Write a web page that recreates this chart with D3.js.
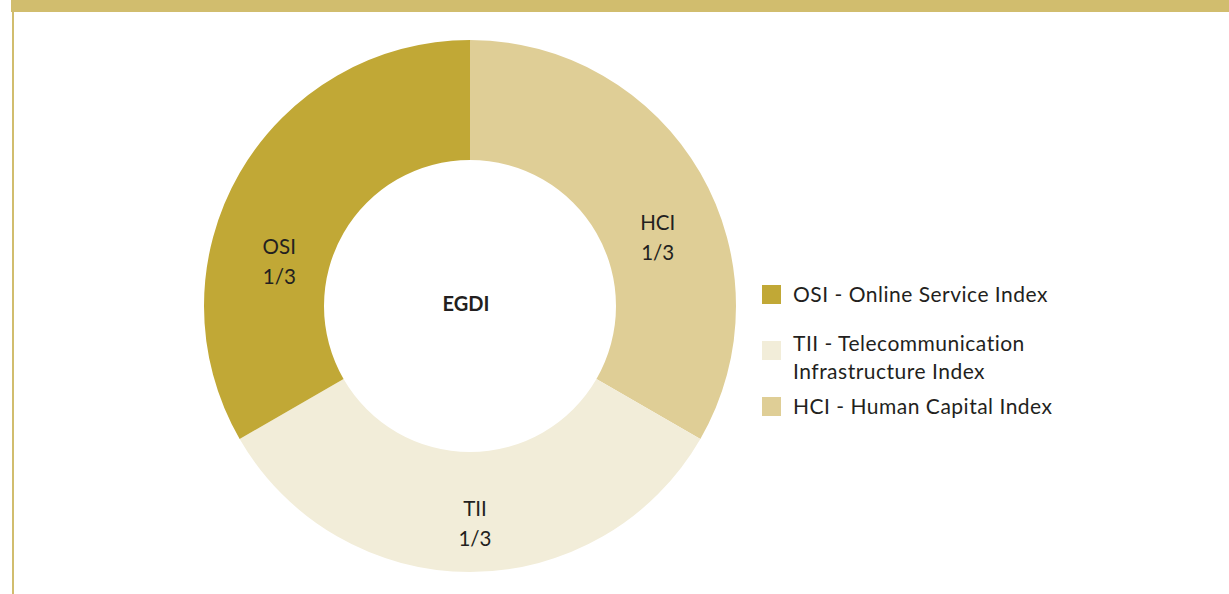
<!DOCTYPE html>
<html>
<head>
<meta charset="utf-8">
<script src="https://cdn.jsdelivr.net/npm/d3@7"></script>
<style>
  body { margin: 0; background: #fff; }
  svg { display: block; font-family: Lato, "Open Sans", sans-serif; }
</style>
</head>
<body>
<svg id="chart" width="1229" height="594"></svg>
<script>
// data
var keys = ["HCI", "TII", "OSI"];
var shares = [1, 1, 1];
var shareLabels = ["1/3", "1/3", "1/3"];
var legendKeys = ["OSI", "TII", "HCI"];
var legendNames = [["OSI - Online Service Index"], ["TII - Telecommunication", "Infrastructure Index"], ["HCI - Human Capital Index"]];
var centerLabel = "EGDI";

var colors = { OSI: "#c1a836", TII: "#f2edd9", HCI: "#dfce96" };

var svg = d3.select("#chart"),
    width = +svg.attr("width"),
    height = +svg.attr("height");

// frame: gold band on top, thin rule on the left
svg.append("rect").attr("x", 11).attr("y", 0).attr("width", width - 11).attr("height", 12).attr("fill", "#d1bd6e");
svg.append("rect").attr("x", 12).attr("y", 12).attr("width", 2).attr("height", height - 12).attr("fill", "#d1bd6e");

var cx = 470, cy = 306,
    outerR = 266, innerR = 146;

var g = svg.append("g").attr("transform", "translate(" + cx + "," + cy + ")");

var pie = d3.pie().sort(null).value(function(d) { return d; });
var arcs = pie(shares);

var arc = d3.arc().innerRadius(innerR).outerRadius(outerR);

g.selectAll("path.slice")
  .data(arcs)
  .enter().append("path")
    .attr("class", "slice")
    .attr("d", arc)
    .attr("fill", function(d, i) { return colors[keys[i]]; });

// labels sit a little off the centroid (degrees), nudged towards the horizontal
var labelShift = { HCI: 9.8, TII: -1.3, OSI: -16.7 };
var labelR = { HCI: 200, TII: 217, OSI: 196 };

var labels = g.selectAll("g.lbl")
  .data(arcs)
  .enter().append("g")
    .attr("class", "lbl")
    .attr("transform", function(d, i) {
      var a = (d.startAngle + d.endAngle) / 2 + labelShift[keys[i]] * Math.PI / 180;
      var r = labelR[keys[i]];
      return "translate(" + (r * Math.sin(a)) + "," + (-r * Math.cos(a)) + ")";
    });

labels.append("text")
  .attr("text-anchor", "middle")
  .attr("y", -7)
  .attr("font-size", 20.5)
  .attr("fill", "#231f20")
  .text(function(d, i) { return keys[i]; });

labels.append("text")
  .attr("text-anchor", "middle")
  .attr("y", 23)
  .attr("font-size", 20.5)
  .attr("fill", "#231f20")
  .text(function(d, i) { return shareLabels[i]; });

g.append("text")
  .attr("text-anchor", "middle")
  .attr("x", -4)
  .attr("y", 5)
  .attr("font-size", 20)
  .attr("font-weight", "bold")
  .attr("fill", "#231f20")
  .text(centerLabel);

// legend
var legendY = d3.scaleOrdinal().domain(legendKeys).range([285, 341, 397]);

var legend = svg.append("g").attr("transform", "translate(762,0)");

var item = legend.selectAll("g.item")
  .data(legendKeys)
  .enter().append("g")
    .attr("class", "item")
    .attr("transform", function(d) { return "translate(0," + legendY(d) + ")"; });

item.append("rect")
  .attr("width", 19)
  .attr("height", 19)
  .attr("fill", function(d) { return colors[d]; });

item.each(function(d, i) {
  var lines = legendNames[i];
  var t = d3.select(this).append("text")
    .attr("x", 31)
    .attr("font-size", 21)
    .attr("letter-spacing", 0.5)
    .attr("fill", "#231f20");
  lines.forEach(function(line, j) {
    t.append("tspan").attr("x", 31).attr("y", 17 - (lines.length - 1) * 7 + j * 28).text(line);
  });
});
</script>
</body>
</html>
